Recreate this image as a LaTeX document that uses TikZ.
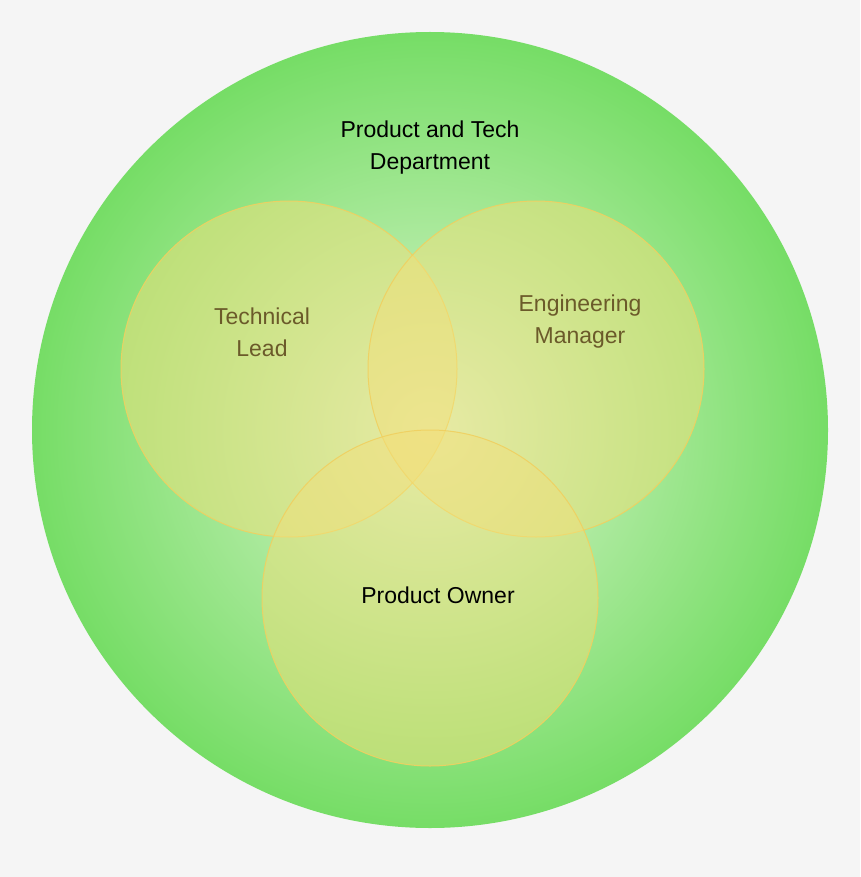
\documentclass[tikz,border=0pt]{standalone}
\usepackage{fontspec}
\setmainfont{Liberation Sans}
\usepackage{tikz}
\usetikzlibrary{positioning}
\definecolor{bgGray}{HTML}{F5F5F5}
\definecolor{deptGreen}{HTML}{76DD66}
\definecolor{deptLight}{HTML}{DDF5D0}
\definecolor{roleFill}{HTML}{F2E07A}
\definecolor{roleLine}{HTML}{F0D060}
\definecolor{roleText}{HTML}{6B5A2A}

\begin{document}
\begin{tikzpicture}[x=1pt,y=-1pt]
                \tikzstyle{role}=[circle,minimum size=336pt,inner sep=0pt,fill=roleFill,fill opacity=0.5,draw=roleLine,draw opacity=0.9,line width=1pt]
                \tikzstyle{label}=[align=center,font=\fontsize{23}{32}\selectfont]
                \fill[bgGray] (0,0) rectangle (860,877);
                \node[circle,minimum size=796pt,inner sep=0pt,inner color=deptLight,outer color=deptGreen] (dept) at (430,430) {};

                \node[role]     (lead)    at (289,369)  {};
                \node[role]     (manager) at (536,369)  {};
                \node[role]     (owner)   at (430,598)  {};

                \node[label]              (deptText)    at (430,148) {Product and Tech\\Department};
                \node[label,text=roleText](leadText)    at (262,332) {Technical\\Lead};
                \node[label,text=roleText](managerText) at (580,322) {Engineering\\Manager};
                \node[label]              (ownerText)   at (438,595) {Product Owner};
\end{tikzpicture}
\end{document}
